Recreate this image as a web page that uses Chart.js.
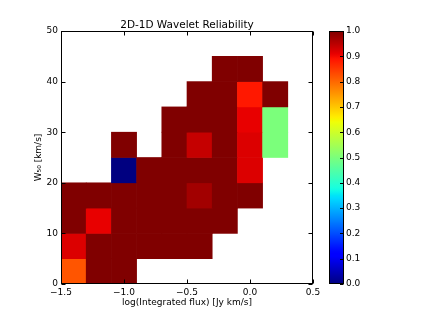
<!DOCTYPE html>
<html>
<head>
<meta charset="utf-8">
<script src="https://cdn.jsdelivr.net/npm/chart.js@4/dist/chart.umd.min.js"></script>
<style>
html,body{margin:0;padding:0;background:#fff;}
canvas{display:block;}
</style>
</head>
<body>
<canvas id="c" width="421" height="316"></canvas>
<script>
// ---- data ----
const chartTitle = "2D-1D Wavelet Reliability";
const xLabel = "log(Integrated flux) [Jy km/s]";
const yLabel = "W\u2085\u2080 [km/s]";
// bin left edges (log flux) and bottom edges (W50), bin sizes
const xBinEdges = [-1.5, -1.3, -1.1, -0.9, -0.7, -0.5, -0.3, -0.1, 0.1];
const xBinWidth = 0.2;
const yBinEdges = [0, 5, 10, 15, 20, 25, 30, 35, 40];
const yBinHeight = 5;
// reliability per bin, one array per W50 row (bottom to top); null = empty
const rowW0  = [0.82, 1.00, 1.00, null, null, null, null, null, null];
const rowW5  = [0.92, 1.00, 1.00, 1.00, 1.00, 1.00, null, null, null];
const rowW10 = [1.00, 0.91, 1.00, 1.00, 1.00, 1.00, 1.00, null, null];
const rowW15 = [1.00, 1.00, 1.00, 1.00, 1.00, 0.97, 1.00, 1.00, null];
const rowW20 = [null, null, 0.00, 1.00, 1.00, 1.00, 1.00, 0.92, null];
const rowW25 = [null, null, 1.00, null, 1.00, 0.94, 1.00, 0.92, 0.50];
const rowW30 = [null, null, null, null, 1.00, 1.00, 1.00, 0.91, 0.50];
const rowW35 = [null, null, null, null, null, 1.00, 1.00, 0.885, 1.00];
const rowW40 = [null, null, null, null, null, null, 1.00, 1.00, null];
const rows = [rowW0, rowW5, rowW10, rowW15, rowW20, rowW25, rowW30, rowW35, rowW40];
const xTicks = [-1.5, -1.0, -0.5, 0.0, 0.5];
const yTicks = [0, 10, 20, 30, 40, 50];
const cbTicks = [0, 0.1, 0.2, 0.3, 0.4, 0.5, 0.6, 0.7, 0.8, 0.9, 1.0];

// ---- jet colormap ----
function interp(v, pts) {
  if (v <= pts[0][0]) return pts[0][1];
  for (let i = 1; i < pts.length; i++) {
    if (v <= pts[i][0]) {
      const [x0, y0] = pts[i - 1], [x1, y1] = pts[i];
      return y0 + (y1 - y0) * (v - x0) / (x1 - x0);
    }
  }
  return pts[pts.length - 1][1];
}
function jet(v) {
  const r = interp(v, [[0, 0], [0.35, 0], [0.66, 1], [0.89, 1], [1, 0.5]]);
  const g = interp(v, [[0, 0], [0.125, 0], [0.375, 1], [0.64, 1], [0.91, 0], [1, 0]]);
  const b = interp(v, [[0, 0.5], [0.11, 1], [0.34, 1], [0.65, 0], [1, 0]]);
  return `rgb(${Math.round(r * 255)},${Math.round(g * 255)},${Math.round(b * 255)})`;
}

// ---- build bar data ----
const cells = [];
rows.forEach((row, j) => {
  row.forEach((v, i) => {
    if (v === null) return;
    cells.push({
      x: xBinEdges[i] + xBinWidth / 2,
      y: [yBinEdges[j], yBinEdges[j] + yBinHeight],
      v: v
    });
  });
});

Chart.defaults.font.family = "'DejaVu Sans', sans-serif";
Chart.defaults.color = '#000';

const fmt = v => {
  const s = Math.abs(v).toFixed(1);
  return (v < -1e-9 ? '\u2212' : '') + s;
};
const noPad = s => { s.paddingTop = 0; s.paddingBottom = 0; s.paddingLeft = 0; s.paddingRight = 0; };

const framePlugin = {
  id: 'frame',
  afterDraw(chart) {
    const ctx = chart.ctx;
    const a = chart.chartArea;
    const xs = chart.scales.x, ys = chart.scales.y, cb = chart.scales.cb;
    ctx.save();
    ctx.strokeStyle = '#000';
    ctx.lineWidth = 1;
    const L = Math.round(a.left) + 0.5, R = Math.round(a.right) - 0.5;
    const T = Math.round(a.top) + 0.5, B = Math.round(a.bottom) - 0.5;
    ctx.strokeRect(L, T, R - L, B - T);
    const tl = 4;
    ctx.beginPath();
    xTicks.forEach(v => {
      const px = Math.round(xs.getPixelForValue(v)) + 0.5;
      ctx.moveTo(px, B); ctx.lineTo(px, B - tl);
      ctx.moveTo(px, T); ctx.lineTo(px, T + tl);
    });
    yTicks.forEach(v => {
      const py = Math.round(ys.getPixelForValue(v)) + 0.5;
      ctx.moveTo(L, py); ctx.lineTo(L + tl, py);
      ctx.moveTo(R, py); ctx.lineTo(R - tl, py);
    });
    ctx.stroke();

    // colorbar
    const cx0 = Math.round(cb.left) + 16, cw = 14;
    const top = cb.getPixelForValue(1), bot = cb.getPixelForValue(0);
    const grad = ctx.createLinearGradient(0, bot, 0, top);
    for (let k = 0; k <= 100; k++) grad.addColorStop(k / 100, jet(k / 100));
    ctx.fillStyle = grad;
    ctx.fillRect(cx0, top, cw, bot - top);
    ctx.strokeStyle = '#000';
    ctx.strokeRect(cx0 + 0.5, Math.round(top) + 0.5, cw, Math.round(bot - top) - 1);
    ctx.beginPath();
    cbTicks.forEach(v => {
      const py = Math.round(cb.getPixelForValue(v)) + 0.5;
      ctx.moveTo(cx0 + cw + 0.5, py); ctx.lineTo(cx0 + cw - 3, py);
    });
    ctx.stroke();
    ctx.restore();
  }
};

new Chart(document.getElementById('c'), {
  type: 'bar',
  data: {
    datasets: [{
      data: cells,
      backgroundColor: ctx => ctx.raw ? jet(ctx.raw.v) : '#000',
      borderWidth: 0,
      barPercentage: 1,
      categoryPercentage: 1
    }]
  },
  options: {
    responsive: false,
    animation: false,
    devicePixelRatio: 1,
    layout: { padding: 0 },
    plugins: {
      legend: { display: false },
      tooltip: { enabled: false },
      title: {
        display: true,
        text: chartTitle,
        fullSize: false,
        font: { size: 10.5, weight: 'normal', lineHeight: 1 },
        padding: { top: 20.5, bottom: 0 },
        color: '#000'
      }
    },
    scales: {
      x: {
        type: 'linear',
        min: -1.5, max: 0.5,
        offset: false,
        grid: { display: false, drawTicks: false },
        border: { display: false },
        afterBuildTicks: s => { s.ticks = xTicks.map(v => ({ value: v })); },
        afterFit: s => { s.height = 32; noPad(s); },
        ticks: { callback: v => fmt(v), padding: 3, font: { size: 9 }, maxRotation: 0, autoSkip: false },
        title: { display: true, text: xLabel, font: { size: 9 }, padding: { top: 0, bottom: 8 } }
      },
      y: {
        type: 'linear',
        min: 0, max: 50,
        grid: { display: false, drawTicks: false },
        border: { display: false },
        afterBuildTicks: s => { s.ticks = yTicks.map(v => ({ value: v })); },
        afterFit: s => { s.width = 61; noPad(s); },
        ticks: { callback: v => String(v), padding: 3, font: { size: 9 } },
        title: { display: true, text: yLabel, font: { size: 9 }, padding: { top: 33, bottom: 0 } }
      },
      cb: {
        type: 'linear',
        position: 'right',
        min: 0, max: 1,
        grid: { display: false, drawTicks: false, drawOnChartArea: false },
        border: { display: false },
        afterBuildTicks: s => { s.ticks = cbTicks.map(v => ({ value: v })); },
        afterFit: s => { s.width = 108; noPad(s); },
        ticks: { callback: v => v.toFixed(1), padding: 33, font: { size: 9 } }
      }
    }
  },
  plugins: [framePlugin]
});
</script>
</body>
</html>
